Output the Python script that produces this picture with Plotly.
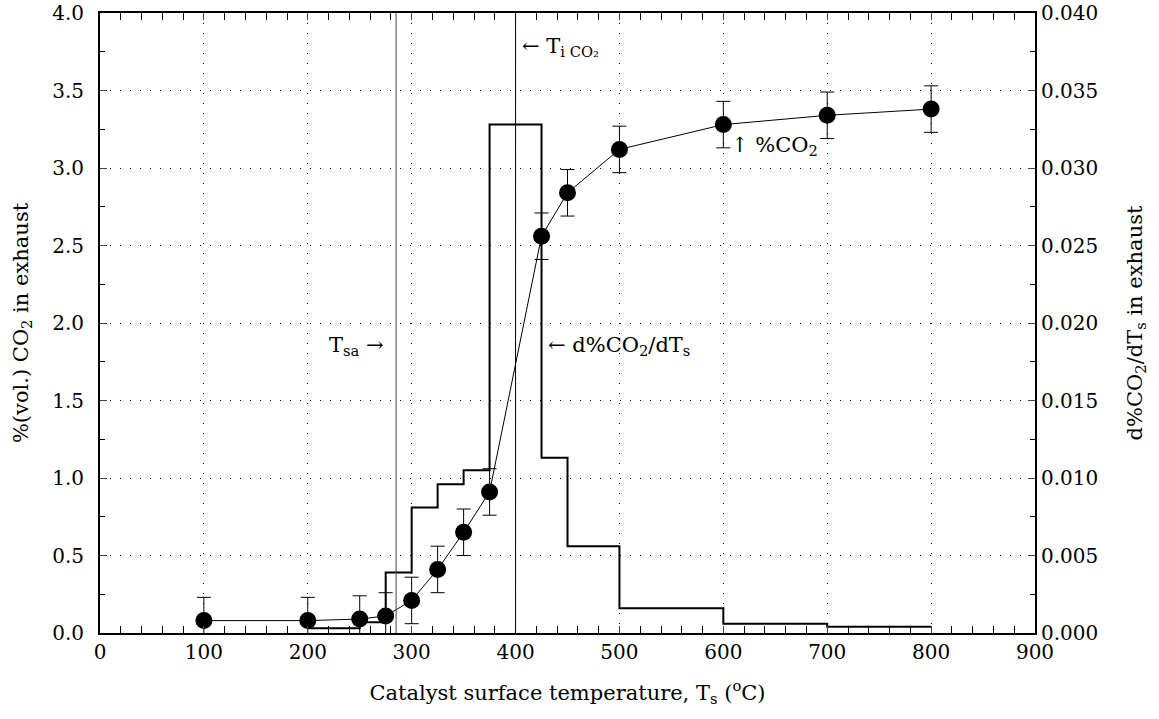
import plotly.graph_objects as go

# Measured %CO2 data
temps = [100, 200, 250, 275, 300, 325, 350, 375, 425, 450, 500, 600, 700, 800]
co2 = [0.08, 0.08, 0.09, 0.11, 0.21, 0.41, 0.65, 0.91, 2.56, 2.84, 3.12, 3.28, 3.34, 3.38]
co2_err = [0.15] * len(temps)

# Derivative (step) data: left edges of intervals, last point repeats final value
deriv_x = [200, 250, 275, 300, 325, 350, 375, 425, 450, 500, 600, 700, 800]
deriv_y = [0.0003, 0.0007, 0.0039, 0.0081, 0.0096, 0.0105, 0.0328, 0.0113, 0.0056, 0.0016, 0.0006, 0.0004, 0.0004]

# Characteristic temperatures
T_sa = 285
T_i_co2 = 400

FONT = "DejaVu Serif"

fig = go.Figure()

fig.add_trace(go.Scatter(
    x=deriv_x, y=deriv_y, mode="lines", line=dict(shape="hv", color="black", width=2),
    yaxis="y2", showlegend=False, hoverinfo="skip"))

fig.add_trace(go.Scatter(
    x=temps, y=co2, mode="lines+markers",
    line=dict(color="black", width=1),
    marker=dict(color="black", size=17),
    error_y=dict(type="data", array=co2_err, color="black", thickness=1, width=7),
    showlegend=False))

for xv, col in [(T_sa, "#444444"), (T_i_co2, "black")]:
    fig.add_shape(type="line", xref="x", yref="paper", x0=xv, x1=xv, y0=0, y1=1,
                  line=dict(color=col, width=1))

annot_font = dict(family=FONT, size=21, color="black")
fig.add_annotation(x=T_sa, y=1.85, xref="x", yref="y", text="T<sub>sa</sub> →",
                   showarrow=False, xanchor="right", xshift=-10, font=annot_font)
fig.add_annotation(x=T_i_co2, y=3.78, xref="x", yref="y", text="← T<sub>i CO₂</sub>",
                   showarrow=False, xanchor="left", xshift=4, font=annot_font)
fig.add_annotation(x=425, y=1.85, xref="x", yref="y", text="← d%CO<sub>2</sub>/dT<sub>s</sub>",
                   showarrow=False, xanchor="left", xshift=4, font=annot_font)
fig.add_annotation(x=600, y=3.14, xref="x", yref="y", text="↑ %CO<sub>2</sub>",
                   showarrow=False, xanchor="left", xshift=6, font=annot_font)

tickfont = dict(family=FONT, size=20, color="black")
titlefont = dict(family=FONT, size=21, color="black")
grid = dict(showgrid=True, gridcolor="black", gridwidth=1, griddash="1px,9px")

fig.update_layout(
    width=1159, height=719,
    margin=dict(l=100, r=124, t=13, b=86),
    plot_bgcolor="white", paper_bgcolor="white",
    font=dict(family=FONT, color="black"),
    xaxis=dict(range=[0, 900], dtick=100, tick0=0, ticks="inside", ticklen=7,
               showline=True, linecolor="black", linewidth=2, mirror="allticks",
               tickfont=tickfont, zeroline=False, automargin=False,
               minor=dict(dtick=20, ticks="inside", ticklen=5, tickcolor="black", showgrid=False),
               title=dict(text="Catalyst surface temperature, T<sub>s</sub> (<sup>o</sup>C)",
                          font=titlefont, standoff=22),
               **grid),
    yaxis=dict(range=[0, 4], dtick=0.5, tickformat=".1f", ticks="inside", ticklen=7,
               showline=True, linecolor="black", linewidth=2,
               tickfont=tickfont, zeroline=False, ticklabelstandoff=10, automargin=False,
               minor=dict(dtick=0.25, ticks="inside", ticklen=5, tickcolor="black", showgrid=False),
               title=dict(text="%(vol.) CO<sub>2</sub> in exhaust",
                          font=titlefont, standoff=18),
               **grid),
    yaxis2=dict(range=[0, 0.04], dtick=0.005, tickformat=".3f", ticks="inside", ticklen=7,
                overlaying="y", side="right", showgrid=False, automargin=False,
                showline=True, linecolor="black", linewidth=2,
                tickfont=tickfont, zeroline=False,
                minor=dict(dtick=0.0025, ticks="inside", ticklen=5, tickcolor="black"),
                title=dict(text="d%CO<sub>2</sub>/dT<sub>s</sub> in exhaust",
                           font=titlefont, standoff=30)),
)

fig.write_html("out.html")
